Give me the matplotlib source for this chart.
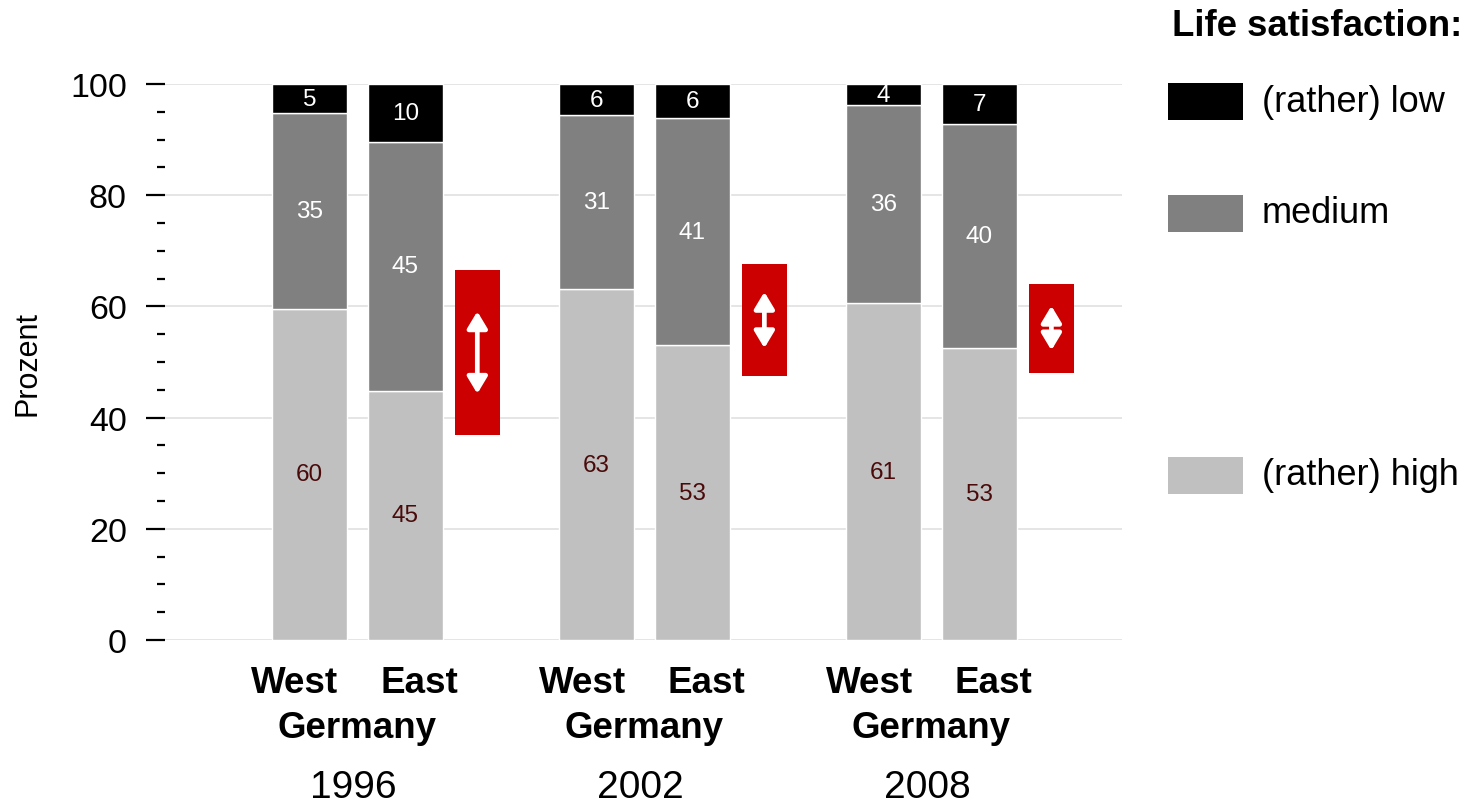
import matplotlib
matplotlib.use("Agg")
import matplotlib.pyplot as plt
from matplotlib.patches import Rectangle
from matplotlib.ticker import MultipleLocator
import matplotlib.transforms as mtransforms
import numpy as np

plt.rcParams['font.family'] = 'Liberation Sans'

# data (percent), one entry per year
years = ["1996", "2002", "2008"]
west_high = [59.6, 63.1, 60.6]
west_medium = [35.1, 31.3, 35.6]
west_low = [5.3, 5.6, 3.8]
east_high = [44.8, 53.0, 52.6]
east_medium = [44.8, 40.9, 40.2]
east_low = [10.4, 6.1, 7.2]

legend_labels = ["(rather) low", "medium", "(rather) high"]
colors = {"low": "#000000", "medium": "#808080", "high": "#c0c0c0",
          "red": "#cc0000", "grid": "#e0e0e0", "hightext": "#4a0a0a"}

W, H = 1472, 803
fig = plt.figure(figsize=(W / 100, H / 100), dpi=100)
ax = fig.add_axes([165 / W, 162 / H, 957 / W, 556 / H])

x = np.arange(len(years))
bw = 0.261
east_off = 0.334
red_off = 0.585
red_w = 0.157


def stacked(xpos, high, medium, low):
    ax.bar(xpos, high, bw, color=colors["high"], edgecolor="white", linewidth=1, zorder=3)
    ax.bar(xpos, medium, bw, bottom=high, color=colors["medium"], edgecolor="white", linewidth=1, zorder=3)
    ax.bar(xpos, low, bw, bottom=np.add(high, medium), color=colors["low"], edgecolor="white", linewidth=1, zorder=3)
    for xi, h, m, l in zip(xpos, high, medium, low):
        ax.text(xi, h / 2, f"{round(h)}", ha="center", va="center", fontsize=17.5, color=colors["hightext"], zorder=4)
        ax.text(xi, h + m / 2, f"{round(m)}", ha="center", va="center", fontsize=17.5, color="white", zorder=4)
        ax.text(xi, h + m + l / 2, f"{round(l)}", ha="center", va="center", fontsize=17.5, color="white", zorder=4)


stacked(x, west_high, west_medium, west_low)
stacked(x + east_off, east_high, east_medium, east_low)

# red gap markers between west and east "high" shares
for xi, wh, eh in zip(x, west_high, east_high):
    mid = (wh + eh) / 2 - 0.5
    diff = wh - eh
    ax.add_patch(Rectangle((xi + red_off - red_w / 2, mid - diff), red_w, 2 * diff,
                           facecolor=colors["red"], edgecolor="none", zorder=3))
    ax.annotate("", xy=(xi + red_off, mid + diff / 2), xytext=(xi + red_off, mid - diff / 2),
                arrowprops=dict(arrowstyle="<|-|>,head_length=0.5,head_width=0.3",
                                color="white", lw=3.4, shrinkA=0, shrinkB=0,
                                mutation_scale=20), zorder=4)

ax.set_xlim(-0.503, 2.831)
ax.set_ylim(0, 100)
ax.yaxis.set_major_locator(MultipleLocator(20))
ax.yaxis.set_minor_locator(MultipleLocator(5))
ax.tick_params(axis="y", which="major", length=13.5, width=1.6, pad=14, labelsize=24.5)
ax.tick_params(axis="y", which="minor", length=5.8, width=1.6)
ax.set_xticks([])
for s in ax.spines.values():
    s.set_visible(False)
ax.yaxis.grid(True, which="major", color=colors["grid"], linewidth=1.2, zorder=0)
ax.set_axisbelow(True)
ax.set_ylabel("Prozent", fontsize=22)
ax.yaxis.set_label_coords(-0.128, 0.5)

trans = mtransforms.blended_transform_factory(ax.transData, ax.transAxes)
for xi, yr in zip(x, years):
    c = xi + east_off / 2
    ax.text(xi - 0.05, -0.076, "West", ha="center", va="center", fontsize=26.5,
            fontweight="bold", transform=trans)
    ax.text(xi + east_off + 0.05, -0.076, "East", ha="center", va="center", fontsize=26.5,
            fontweight="bold", transform=trans)
    ax.text(c, -0.157, "Germany", ha="center", va="center", fontsize=26.5,
            fontweight="bold", transform=trans)
    ax.text(c - 0.015, -0.264, yr, ha="center", va="center", fontsize=28, transform=trans)

# legend on the right
fig.text(1172 / W, 1 - 27 / H, "Life satisfaction:", ha="left", va="center",
         fontsize=26.3, fontweight="bold")
legend_colors = [colors["low"], colors["medium"], colors["high"]]
row_y = [102, 214, 476]
for lab, col, ry in zip(legend_labels, legend_colors, row_y):
    fig.patches.append(Rectangle((1168 / W, 1 - (ry + 18.5) / H), 75 / W, 37 / H,
                                 facecolor=col, edgecolor="none",
                                 transform=fig.transFigure, figure=fig))
    fig.text(1262 / W, 1 - ry / H, lab, ha="left", va="center", fontsize=26)

fig.savefig("out.png", dpi=100)
